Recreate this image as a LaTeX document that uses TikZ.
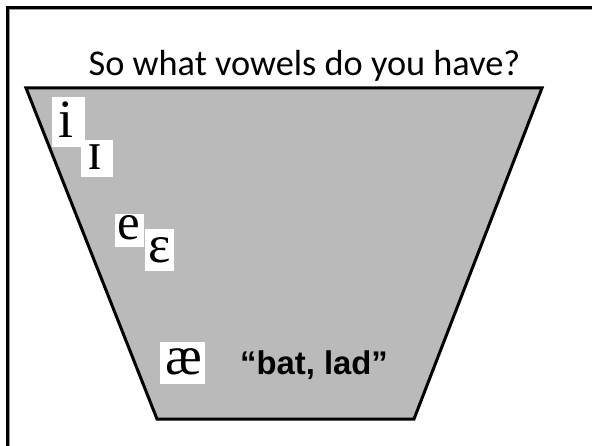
\documentclass[tikz,border=0pt]{standalone}
\usepackage{fontspec}
\setmainfont{Liberation Serif}
\newfontfamily\titlefont{Carlito}
\newfontfamily\labelfont{Liberation Sans}
\newfontfamily\ipafont{Liberation Serif}
\definecolor{trapgray}{HTML}{BABABA}
\definecolor{shadegray}{HTML}{9A9A9A}
\begin{document}
\begin{tikzpicture}[x=1pt,y=-1pt,
  wbox/.style={fill=white,draw=none,inner sep=0pt,anchor=north west},
  ipa/.style={anchor=base,inner sep=0pt,font=\ipafont},
  trap/.style={fill=trapgray,draw=black,line width=3pt,line join=miter}]
\useasboundingbox (0,0) rectangle (592,446);
\fill[white] (0,0) rectangle (592,446);
% frame (partially visible)
\draw[shadegray,line width=1pt] (9.8,446) -- (9.8,9.8) -- (592,9.8);
\draw[black,line width=2.4pt] (7.6,446) -- (7.6,7.6) -- (592,7.6);
% title
\node[anchor=base,inner sep=0pt,font=\titlefont\fontsize{36.3}{40}\selectfont] (title) at (304.5,76) {So what vowels do you have?};
% trapezoid
\coordinate (tl) at (26,88);
\coordinate (tr) at (542,88);
\coordinate (br) at (414,419);
\coordinate (bl) at (157,419);
\draw[trap] (tl) -- (tr) -- (br) -- (bl) -- cycle;
% white boxes
\node[wbox,minimum width=32.6pt,minimum height=50.6pt] (ibox) at (51.7,96.7) {};
\node[wbox,minimum width=31.3pt,minimum height=36.7pt] (Ibox) at (81,140) {};
\node[wbox,minimum width=28.3pt,minimum height=32.7pt] (ebox) at (115,214) {};
\node[wbox,minimum width=28.3pt,minimum height=42pt] (epsbox) at (145,229) {};
\node[wbox,minimum width=45pt,minimum height=42pt] (aebox) at (160,342) {};
% glyphs
\node[ipa,font=\ipafont\fontsize{54}{60}\selectfont] (i) at (66,137.7) {i};
\node[ipa,font=\ipafont\fontsize{54}{60}\selectfont] (I) at (95.5,170) {ɪ};
\node[ipa,font=\ipafont\fontsize{51}{56}\selectfont] (e) at (129,239.3) {e};
\node[ipa,font=\ipafont\fontsize{53}{58}\selectfont] (eps) at (159.5,263) {ɛ};
\node[ipa,font=\ipafont\fontsize{55}{60}\selectfont] (ae) at (183.5,375) {æ};
% label
\node[anchor=base west,inner sep=0pt,font=\labelfont\bfseries\fontsize{32.8}{38}\selectfont] (bat) at (240,374) {“bat, lad”};
\end{tikzpicture}
\end{document}
